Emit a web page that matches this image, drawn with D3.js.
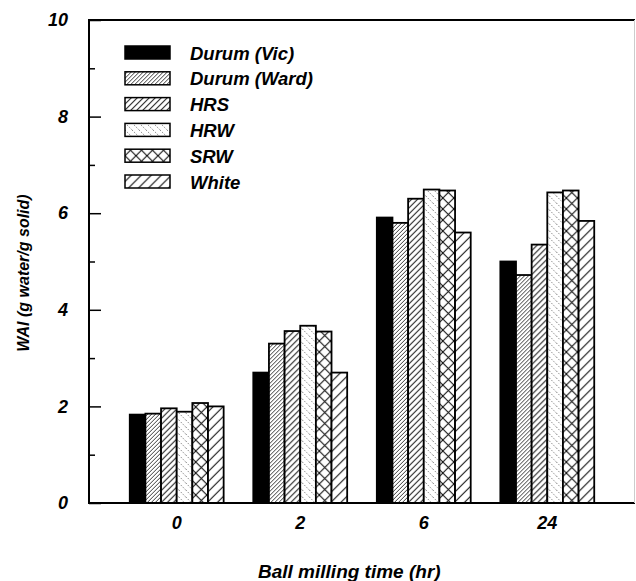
<!DOCTYPE html>
<meta charset="utf-8">
<script src="https://d3js.org/d3.v7.min.js"></script>
<style>
  body { margin: 0; background: #fff; }
  text { font-family: "Liberation Sans", Arial, sans-serif; font-weight: bold; font-style: italic; fill: #000; }
</style>
<div id="chart"></div>
<script>

// data
var times = ["0", "2", "6", "24"];
var wheats = ["Durum (Vic)", "Durum (Ward)", "HRS", "HRW", "SRW", "White"];
var durumVic  = [1.83, 2.70, 5.91, 5.00];
var durumWard = [1.85, 3.30, 5.80, 4.72];
var hrs       = [1.96, 3.56, 6.30, 5.35];
var hrw       = [1.89, 3.67, 6.49, 6.43];
var srw       = [2.07, 3.55, 6.47, 6.47];
var white     = [2.00, 2.70, 5.60, 5.84];
var yTicks = [0, 2, 4, 6, 8, 10];
var yMinorTicks = [1, 3, 5, 7, 9];

var series = [durumVic, durumWard, hrs, hrw, srw, white];

var width = 636, height = 581;
var margin = {top: 20, right: 1, bottom: 78, left: 89};

var svg = d3.select("#chart")
  .append("svg")
    .attr("width", width)
    .attr("height", height);

// hatch fills
var defs = svg.append("defs");

function hatch(id, size, lines, color, sw, dash) {
  var p = defs.append("pattern")
    .attr("id", id)
    .attr("patternUnits", "userSpaceOnUse")
    .attr("width", size)
    .attr("height", size);
  p.append("rect").attr("width", size).attr("height", size).attr("fill", "#fff");
  lines.forEach(function(l) {
    p.append("path")
      .attr("d", l)
      .attr("stroke", color)
      .attr("stroke-width", sw)
      .attr("stroke-dasharray", dash || null)
      .attr("fill", "none");
  });
}

function fwd(s) { return "M0," + s + "L" + s + ",0M" + (-s/2) + "," + (s/2) + "L" + (s/2) + "," + (-s/2) + "M" + (s/2) + "," + (s*1.5) + "L" + (s*1.5) + "," + (s/2); }
function back(s) { return "M0,0L" + s + "," + s + "M" + (-s/2) + "," + (s/2) + "L" + (s/2) + "," + (s*1.5) + "M" + (s/2) + "," + (-s/2) + "L" + (s*1.5) + "," + (s/2); }

hatch("p-ward", 4, [fwd(4)], "#222", 0.9);
hatch("p-hrs", 6, [fwd(6)], "#222", 1.1);
hatch("p-hrw", 7, [back(7)], "#777", 0.9, "1.5,1.5");
hatch("p-srw", 11, [fwd(11), back(11)], "#111", 1.1);
hatch("p-white", 10, [fwd(10)], "#111", 1.1);

var fills = ["#000", "url(#p-ward)", "url(#p-hrs)", "url(#p-hrw)", "url(#p-srw)", "url(#p-white)"];

// scales
var x0 = d3.scaleBand()
  .domain(times)
  .range([margin.left, width - margin.right])
  .paddingInner(0.24)
  .paddingOuter(0.33);

var x1 = d3.scaleBand()
  .domain(d3.range(wheats.length))
  .range([0, x0.bandwidth()]);

var y = d3.scaleLinear()
  .domain([0, 10])
  .range([height - margin.bottom, margin.top]);

// bars
var groups = svg.append("g")
  .selectAll("g")
  .data(times)
  .enter().append("g")
    .attr("transform", function(d) { return "translate(" + x0(d) + ",0)"; });

groups.selectAll("rect")
  .data(function(d, i) { return series.map(function(s, j) { return {j: j, v: s[i]}; }); })
  .enter().append("rect")
    .attr("x", function(d) { return x1(d.j); })
    .attr("y", function(d) { return y(d.v); })
    .attr("width", x1.bandwidth())
    .attr("height", function(d) { return y(0) - y(d.v); })
    .attr("fill", function(d) { return fills[d.j]; })
    .attr("stroke", "#000")
    .attr("stroke-width", 1.8);

// frame
var x0px = margin.left, x1px = width - margin.right;
svg.append("line").attr("x1", x0px).attr("x2", x1px).attr("y1", y(10)).attr("y2", y(10)).attr("stroke", "#000").attr("stroke-width", 2);
svg.append("line").attr("x1", x0px).attr("x2", x1px).attr("y1", y(0)).attr("y2", y(0)).attr("stroke", "#000").attr("stroke-width", 2);
svg.append("line").attr("x1", x0px).attr("x2", x0px).attr("y1", y(10) - 1).attr("y2", y(0) + 1).attr("stroke", "#000").attr("stroke-width", 2);
svg.append("line").attr("x1", x1px - 0.5).attr("x2", x1px - 0.5).attr("y1", y(10)).attr("y2", y(0)).attr("stroke", "#ccc").attr("stroke-width", 1);

// y axis, ticks pointing inward
var yAxis = svg.append("g")
  .attr("transform", "translate(" + margin.left + ",0)")
  .call(d3.axisLeft(y).tickValues(yTicks).tickSize(-12).tickPadding(21).tickFormat(d3.format("d")));
yAxis.select(".domain").remove();
yAxis.selectAll("line").attr("stroke", "#000").attr("stroke-width", 1.5);
yAxis.selectAll("text").style("font-size", "18px").attr("fill", "#000");

var yMinor = svg.append("g")
  .attr("transform", "translate(" + margin.left + ",0)")
  .call(d3.axisLeft(y).tickValues(yMinorTicks).tickSize(-6).tickFormat(""));
yMinor.select(".domain").remove();
yMinor.selectAll("line").attr("stroke", "#000").attr("stroke-width", 1.5);

// x axis labels
var xAxis = svg.append("g")
  .attr("transform", "translate(0," + y(0) + ")")
  .call(d3.axisBottom(x0).tickSize(0).tickPadding(13));
xAxis.select(".domain").remove();
xAxis.selectAll("text").style("font-size", "18px").attr("fill", "#000");

// axis titles
svg.append("text")
  .attr("x", 258)
  .attr("y", 578)
  .style("font-size", "19px")
  .text("Ball milling time (hr)");

svg.append("text")
  .attr("transform", "translate(29,273) rotate(-90)")
  .attr("text-anchor", "middle")
  .style("font-size", "16px")
  .text("WAI (g water/g solid)");

// legend
var legend = svg.append("g")
  .selectAll("g")
  .data(wheats)
  .enter().append("g")
    .attr("transform", function(d, i) { return "translate(125," + (52.5 + i * 25.8) + ")"; });

legend.append("rect")
  .attr("x", 0)
  .attr("y", -6.5)
  .attr("width", 45)
  .attr("height", 13)
  .attr("fill", function(d, i) { return fills[i]; })
  .attr("stroke", "#000")
  .attr("stroke-width", 1.5);

legend.append("text")
  .attr("x", 65)
  .attr("y", 7)
  .style("font-size", "18.5px")
  .text(function(d) { return d; });

</script>
